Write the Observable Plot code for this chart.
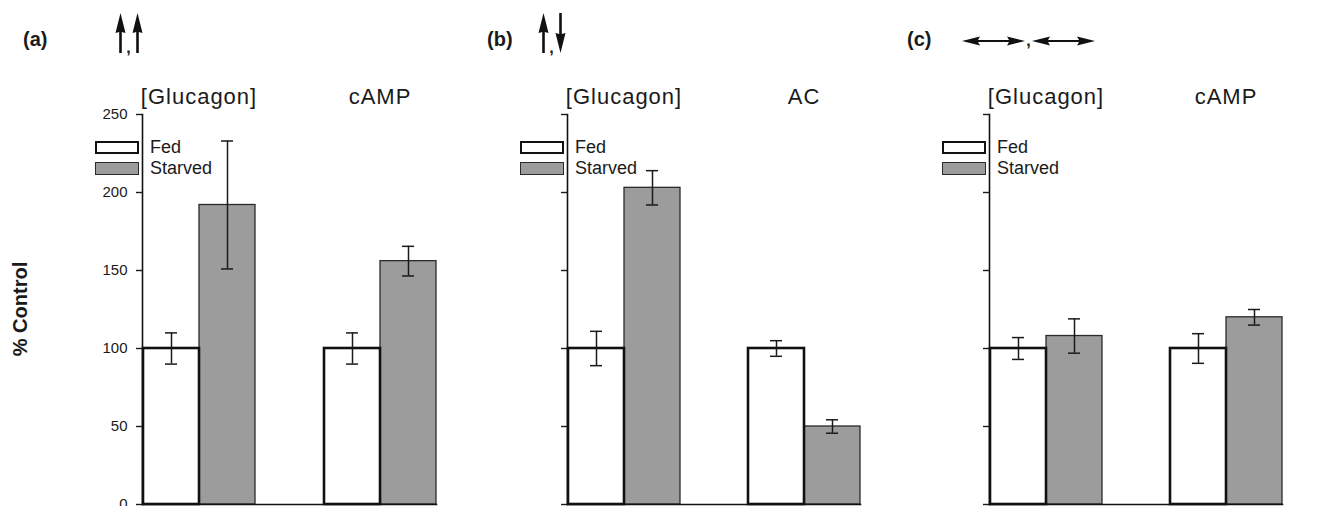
<!DOCTYPE html>
<html>
<head>
<meta charset="utf-8">
<script src="https://cdn.jsdelivr.net/npm/d3@7"></script>
<script src="https://cdn.jsdelivr.net/npm/@observablehq/plot@0.6"></script>
<style>
  html, body { margin: 0; padding: 0; background: #fff; overflow: hidden; }
  #fig { position: relative; width: 1328px; height: 506px; overflow: hidden;
         font-family: "Liberation Sans", Arial, sans-serif; color: #1a1a1a; }
  .panel { position: absolute; top: 0; }
  .tag { position: absolute; top: 29px; font-size: 20px; line-height: 20px; font-weight: bold; }
  .ylabel { position: absolute; left: 20px; top: 308.5px; line-height: 20px;
            transform: translate(-50%, -50%) rotate(-90deg);
            font-size: 20px; font-weight: bold; white-space: nowrap; }
  .arrows { position: absolute; display: flex; align-items: flex-end; }
  .arrows svg { display: block; fill: #111; }
  .arrows .comma { font-size: 16px; line-height: 16px; font-weight: bold; transform: translateY(3px); }
  .legend { position: absolute; top: 137px; font-size: 18px; }
  .legend .row { display: flex; align-items: center; height: 21px; position: relative; }
  .legend .swatch { box-sizing: border-box; width: 44px; height: 13px; }
  .legend .label { position: absolute; white-space: nowrap; }
  [aria-label="fx-axis tick label"] text { letter-spacing: 1px; }
</style>
</head>
<body>
<div id="fig"></div>
<script>
// Percent of control, mean ± error, for each panel
const conditions = ["Fed", "Starved"];
const yTicks = [0, 50, 100, 150, 200, 250];
const yLabel = "% Control";

const groupsA = ["[Glucagon]", "cAMP"];
const fedA = [100, 100];
const fedErrA = [10, 10];
const starvedA = [192, 156];
const starvedErrA = [41, 9.5];

const groupsB = ["[Glucagon]", "AC"];
const fedB = [100, 100];
const fedErrB = [11, 5];
const starvedB = [203, 50];
const starvedErrB = [11, 4.3];

const groupsC = ["[Glucagon]", "cAMP"];
const fedC = [100, 100];
const fedErrC = [7, 9.5];
const starvedC = [108, 120];
const starvedErrC = [11, 5];

const tags = ["(a)", "(b)", "(c)"];
const arrowSets = [["up", "up"], ["up", "down"], ["both", "both"]];

// Panel layout on the page
const panelLeft = [0, 500, 922];
const panelWidth = [500, 422, 422];
const panelMarginLeft = [85, 10, 10];
const panelMarginRight = [7, 5, 5];
const tagLeft = [23, 487, 907];
const arrowLeft = [114.5, 537.5, 962];
const arrowTop = [13, 13, 30];

const starvedFill = "#9c9c9c";

function rowsFor(groups, fed, fedErr, starved, starvedErr) {
  const rows = [];
  groups.forEach((g, i) => {
    rows.push({group: g, condition: "Fed", value: fed[i], err: fedErr[i]});
    rows.push({group: g, condition: "Starved", value: starved[i], err: starvedErr[i]});
  });
  return rows;
}

const panelRows = [
  rowsFor(groupsA, fedA, fedErrA, starvedA, starvedErrA),
  rowsFor(groupsB, fedB, fedErrB, starvedB, starvedErrB),
  rowsFor(groupsC, fedC, fedErrC, starvedC, starvedErrC)
];
const panelGroups = [groupsA, groupsB, groupsC];

function drawPanel(p) {
  const rows = panelRows[p];
  const first = p === 0;
  const lo = d => d.value - d.err;
  const hi = d => d.value + d.err;
  return Plot.plot({
    width: panelWidth[p],
    height: 506,
    marginLeft: panelMarginLeft[p],
    marginRight: panelMarginRight[p],
    marginTop: 114,
    marginBottom: 2,
    style: {fontFamily: "Liberation Sans, Arial, sans-serif", fontSize: "15px", color: "#1a1a1a",
            background: "transparent", maxWidth: "none"},
    fx: {domain: panelGroups[p], paddingInner: 0.374, paddingOuter: 0.313, label: null},
    x: {domain: conditions, padding: 0, axis: null},
    y: {domain: [0, 250]},
    marks: [
      Plot.barY(rows.filter(d => d.condition === "Starved"),
        {fx: "group", x: "condition", y: "value", fill: starvedFill, stroke: "#2a2a2a", strokeWidth: 1.3}),
      Plot.barY(rows.filter(d => d.condition === "Fed"),
        {fx: "group", x: "condition", y: "value", fill: "white", stroke: "#111", strokeWidth: 2.6}),
      Plot.ruleX(rows, {fx: "group", x: "condition", y1: lo, y2: hi, stroke: "#1a1a1a", strokeWidth: 1.5}),
      Plot.tickY(rows, {fx: "group", x: "condition", y: lo, stroke: "#1a1a1a", strokeWidth: 1.5, insetLeft: 22, insetRight: 22}),
      Plot.tickY(rows, {fx: "group", x: "condition", y: hi, stroke: "#1a1a1a", strokeWidth: 1.5, insetLeft: 22, insetRight: 22}),
      // axis line on the left and baseline at zero, across the whole panel
      Plot.frame({anchor: "left", facet: "super", stroke: "#111", strokeWidth: 1.6}),
      Plot.frame({anchor: "bottom", facet: "super", stroke: "#111", strokeWidth: 1.6}),
      Plot.axisY({
        ticks: yTicks, tickSize: 6, tickPadding: 9, strokeWidth: 1.4,
        tickFormat: first ? d3.format("d") : () => "",
        label: null
      }),
      Plot.axisFx({anchor: "top", tickSize: 0, tickPadding: 11, fontSize: 22, label: null})
    ]
  });
}

function arrowGlyph(kind) {
  const ns = "http://www.w3.org/2000/svg";
  const svg = document.createElementNS(ns, "svg");
  const path = document.createElementNS(ns, "path");
  if (kind === "both") {
    svg.setAttribute("width", 63); svg.setAttribute("height", 10);
    path.setAttribute("d", "M0 5 L18 0.5 L16 4 L47 4 L45 0.5 L63 5 L45 9.5 L47 6 L16 6 L18 9.5 Z");
  } else {
    svg.setAttribute("width", 11); svg.setAttribute("height", 40);
    path.setAttribute("d", "M5.5 0 L10.5 20 L6.8 19 L6.8 40 L4.2 40 L4.2 19 L0.5 20 Z");
    if (kind === "down") path.setAttribute("transform", "rotate(180 5.5 20)");
  }
  svg.appendChild(path);
  return svg;
}

const fig = document.getElementById("fig");

for (let p = 0; p < 3; p++) {
  const holder = document.createElement("div");
  holder.className = "panel";
  holder.style.left = panelLeft[p] + "px";
  holder.style.width = panelWidth[p] + "px";
  holder.appendChild(drawPanel(p));
  fig.appendChild(holder);

  // legend inside the plotting area
  const axisX = panelLeft[p] + panelMarginLeft[p];
  const legend = document.createElement("div");
  legend.className = "legend";
  legend.style.left = (axisX + 10) + "px";
  conditions.forEach(c => {
    const row = document.createElement("div");
    row.className = "row";
    const sw = document.createElement("div");
    sw.className = "swatch";
    if (c === "Fed") { sw.style.background = "#fff"; sw.style.border = "2.6px solid #111"; }
    else { sw.style.background = starvedFill; sw.style.border = "1.3px solid #2a2a2a"; }
    const lab = document.createElement("span");
    lab.className = "label";
    lab.style.left = "55px";
    lab.textContent = c;
    row.appendChild(sw);
    row.appendChild(lab);
    legend.appendChild(row);
  });
  fig.appendChild(legend);

  // panel tag and direction arrows
  const tag = document.createElement("div");
  tag.className = "tag";
  tag.style.left = tagLeft[p] + "px";
  tag.textContent = tags[p];
  fig.appendChild(tag);

  const arrows = document.createElement("div");
  arrows.className = "arrows";
  arrows.style.left = arrowLeft[p] + "px";
  arrows.style.top = arrowTop[p] + "px";
  arrows.appendChild(arrowGlyph(arrowSets[p][0]));
  const comma = document.createElement("span");
  comma.className = "comma";
  comma.textContent = ",";
  comma.style.width = (arrowSets[p][0] === "both" ? 7 : 6) + "px";
  comma.style.textAlign = "center";
  arrows.appendChild(comma);
  arrows.appendChild(arrowGlyph(arrowSets[p][1]));
  fig.appendChild(arrows);
}

// shared y-axis title beside the first panel
const yTitle = document.createElement("div");
yTitle.className = "ylabel";
yTitle.textContent = yLabel;
fig.appendChild(yTitle);
</script>
</body>
</html>
